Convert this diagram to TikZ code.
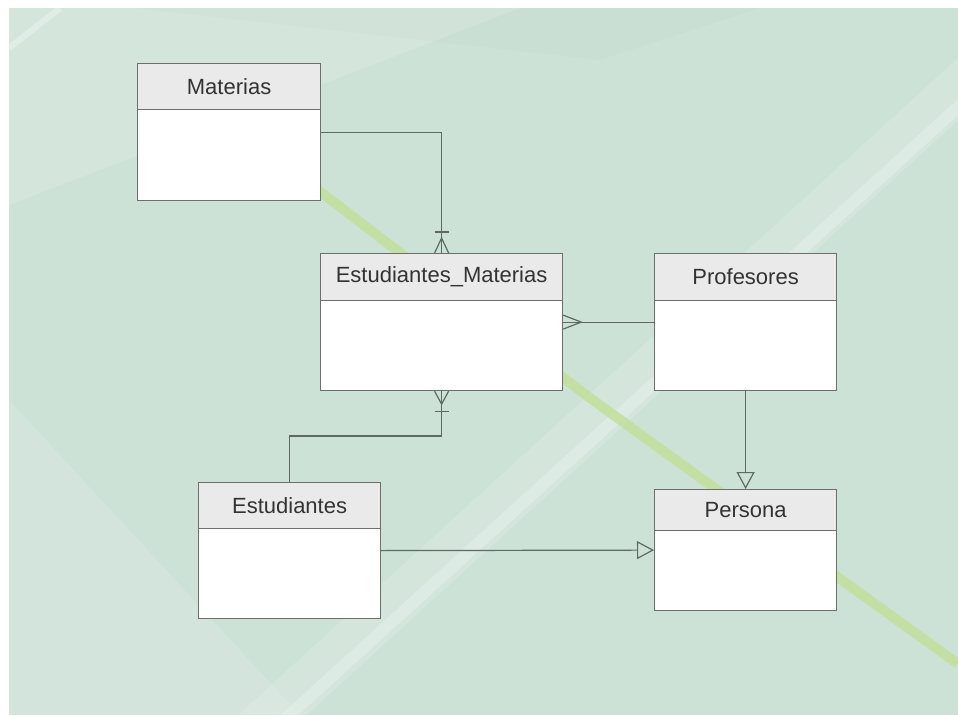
\documentclass[tikz,border=0pt]{standalone}
\usepackage{fontspec}
\setmainfont{Liberation Sans}
\usetikzlibrary{arrows.meta,calc}
\definecolor{bg}{HTML}{CDE2D7}
\definecolor{boxline}{HTML}{6E6E6E}
\definecolor{hdr}{HTML}{EAEAEA}
\definecolor{connc}{HTML}{5F6964}
\definecolor{lime}{HTML}{C3DF9C}
\definecolor{txt}{HTML}{333333}
\begin{document}
\begin{tikzpicture}[x=1pt,y=-1pt,
  body/.style={draw=boxline, fill=white, line width=1.2pt, anchor=north west, inner sep=0pt},
  head/.style={draw=boxline, fill=hdr, line width=1.2pt, anchor=north west, inner sep=0pt,
    font=\fontsize{22}{26}\selectfont, text=txt},
  conn/.style={draw=connc, line width=1.2pt},
  tri/.style={-{Triangle[open, length=17pt, width=18pt, line width=1.2pt]}}]
\useasboundingbox (0,0) rectangle (958,715);
\fill[white] (0,0) rectangle (958,715);
\fill[bg] (9,8) rectangle (958,715);
\begin{scope}
  \clip (9,8) rectangle (958,715);
  \fill[white,opacity=0.14] (9,8) -- (520,8) -- (9,205) -- cycle;
  \fill[white,opacity=0.10] (9,400) -- (9,715) -- (300,715) -- cycle;
  \fill[black,opacity=0.012] (130,8) -- (760,8) -- (600,60) -- cycle;
  \draw[white, opacity=0.3, line width=6pt] (9,48) -- (60,8);
  \draw[white, opacity=0.14, line width=46pt] (245,740) -- (990,60);
  \draw[white, opacity=0.2, line width=12pt] (262,740) -- (990,78);
  \draw[lime, line width=10pt, opacity=0.85] (318,190) -- (590,398) -- (958,664);
\end{scope}

% classes
\node[body, minimum width=183pt, minimum height=137pt] (mat) at (137,63) {};
\node[head, minimum width=183pt, minimum height=46pt] (matH) at (mat.north west) {Materias};

\node[body, minimum width=242pt, minimum height=137pt] (em) at (320,253) {};
\node[head, minimum width=242pt, minimum height=47pt] (emH) at (em.north west) {Estudiantes\_Materias};

\node[body, minimum width=182pt, minimum height=137pt] (prof) at (654,253) {};
\node[head, minimum width=182pt, minimum height=47pt] (profH) at (prof.north west) {Profesores};

\node[body, minimum width=182pt, minimum height=136pt] (est) at (198,482) {};
\node[head, minimum width=182pt, minimum height=46pt] (estH) at (est.north west) {Estudiantes};

\node[body, minimum width=182pt, minimum height=121pt] (per) at (654,489) {};
\node[head, minimum width=182pt, minimum height=41pt] (perH) at (per.north west) {Persona};

% connectors
\draw[conn] (mat.east) -| (em.north);
\draw[conn] ($(em.north)+(-7,0)$) -- ($(em.north)+(0,-15)$) -- ($(em.north)+(7,0)$);
\draw[conn] ($(em.north)+(-7,-21)$) -- ($(em.north)+(7,-21)$);

\draw[conn] (est.north) -- ++(0,-46) -| (em.south);
\draw[conn] ($(em.south)+(-7,0)$) -- ($(em.south)+(0,13)$) -- ($(em.south)+(7,0)$);
\draw[conn] ($(em.south)+(-7,20)$) -- ($(em.south)+(7,20)$);

\draw[conn] (prof.west) -- (em.east);
\draw[conn] ($(em.east)+(0,-7)$) -- ($(em.east)+(18,0)$) -- ($(em.east)+(0,7)$);

\draw[conn, tri] (prof.south) -- (per.north);
\draw[conn, tri] (est.east) -- (per.west);
\end{tikzpicture}
\end{document}
